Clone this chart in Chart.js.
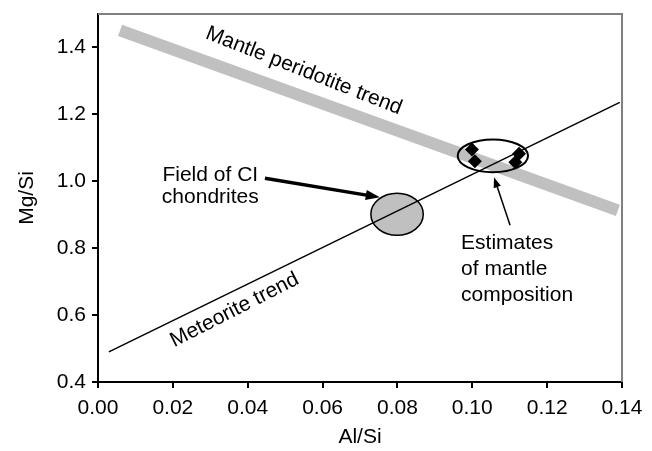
<!DOCTYPE html>
<html>
<head>
  <meta charset="UTF-8">
  <title>Mg/Si vs Al/Si</title>
  <script src="https://cdn.jsdelivr.net/npm/chart.js"></script>
  <style>
    html, body { margin: 0; padding: 0; background: #fff; }
    #wrap { width: 652px; height: 451px; }
  </style>
</head>
<body>
  <div id="wrap"><canvas id="chart" width="652" height="451"></canvas></div>
  <script>
    // axis ticks
    const xTicks = [0, 0.02, 0.04, 0.06, 0.08, 0.10, 0.12, 0.14];
    const yTicks = [0.4, 0.6, 0.8, 1.0, 1.2, 1.4];

    // trend lines (Al/Si, Mg/Si)
    const mantleTrendX = [0.0059, 0.1389];
    const mantleTrendY = [1.451, 0.913];
    const meteoriteTrendX = [0.0029, 0.1394];
    const meteoriteTrendY = [0.490, 1.236];

    // mantle composition estimates
    const estimateX = [0.0999, 0.1007, 0.1125, 0.1115];
    const estimateY = [1.095, 1.060, 1.082, 1.057];

    // fields: centre x, centre y, half width, half height
    const ciField = [0.0799, 0.9015, 0.0070, 0.063];
    const mantleField = [0.1055, 1.076, 0.0094, 0.049];

    const pts = (xs, ys) => xs.map((x, i) => ({ x, y: ys[i] }));
    const font = '"Liberation Sans", Arial, sans-serif';
    const fs = 21;

    const frame = {
      id: 'frame',
      beforeDatasetsDraw(chart) {
        const { ctx, scales: { x, y } } = chart;
        ctx.save();
        // CI chondrite field (filled)
        ctx.beginPath();
        ctx.ellipse(x.getPixelForValue(ciField[0]), y.getPixelForValue(ciField[1]),
          x.getPixelForValue(ciField[2]) - x.getPixelForValue(0),
          y.getPixelForValue(0) - y.getPixelForValue(ciField[3]), 0, 0, Math.PI * 2);
        ctx.fillStyle = '#c0c0c0';
        ctx.fill();
        ctx.strokeStyle = '#000';
        ctx.lineWidth = 1.5;
        ctx.stroke();
        ctx.restore();
      },
      afterDatasetsDraw(chart) {
        const { ctx, chartArea: a, scales: { x, y } } = chart;
        ctx.save();
        // mantle estimates ring
        ctx.beginPath();
        ctx.ellipse(x.getPixelForValue(mantleField[0]), y.getPixelForValue(mantleField[1]),
          x.getPixelForValue(mantleField[2]) - x.getPixelForValue(0),
          y.getPixelForValue(0) - y.getPixelForValue(mantleField[3]), 0, 0, Math.PI * 2);
        ctx.strokeStyle = '#000';
        ctx.lineWidth = 2;
        ctx.stroke();

        // top / right frame
        ctx.strokeStyle = '#808080';
        ctx.lineWidth = 2;
        ctx.beginPath();
        ctx.moveTo(a.left, a.top);
        ctx.lineTo(a.right, a.top);
        ctx.lineTo(a.right, a.bottom);
        ctx.stroke();

        // arrows
        const arrow = (x0, y0, x1, y1, w, head) => {
          const px0 = x.getPixelForValue(x0), py0 = y.getPixelForValue(y0);
          const px1 = x.getPixelForValue(x1), py1 = y.getPixelForValue(y1);
          const ang = Math.atan2(py1 - py0, px1 - px0);
          ctx.strokeStyle = '#000';
          ctx.fillStyle = '#000';
          ctx.lineWidth = w;
          ctx.beginPath();
          ctx.moveTo(px0, py0);
          ctx.lineTo(px1 - Math.cos(ang) * head * 0.8, py1 - Math.sin(ang) * head * 0.8);
          ctx.stroke();
          ctx.beginPath();
          ctx.moveTo(px1, py1);
          ctx.lineTo(px1 - head * Math.cos(ang - 0.35), py1 - head * Math.sin(ang - 0.35));
          ctx.lineTo(px1 - head * Math.cos(ang + 0.35), py1 - head * Math.sin(ang + 0.35));
          ctx.closePath();
          ctx.fill();
        };
        arrow(0.0446, 1.009, 0.0753, 0.952, 3.5, 15);
        arrow(0.1101, 0.8687, 0.1058, 1.012, 1.5, 11);

        // labels
        ctx.fillStyle = '#000';
        ctx.font = fs + 'px ' + font;
        ctx.textBaseline = 'middle';
        const rot = (t, vx, vy, deg) => {
          ctx.save();
          ctx.translate(x.getPixelForValue(vx), y.getPixelForValue(vy));
          ctx.rotate(deg * Math.PI / 180);
          ctx.textAlign = 'center';
          ctx.fillText(t, 0, 0);
          ctx.restore();
        };
        rot('Mantle peridotite trend', 0.0550, 1.330, 21.5);
        rot('Meteorite trend', 0.0365, 0.615, -27);
        ctx.textAlign = 'center';
        ctx.fillText('Field of CI', x.getPixelForValue(0.030), y.getPixelForValue(1.018));
        ctx.fillText('chondrites', x.getPixelForValue(0.030), y.getPixelForValue(0.952));
        ctx.textAlign = 'left';
        ['Estimates', 'of mantle', 'composition'].forEach((t, i) => {
          ctx.fillText(t, x.getPixelForValue(0.097), y.getPixelForValue([0.815, 0.737, 0.660][i]));
        });
        ctx.restore();
      }
    };

    new Chart(document.getElementById('chart'), {
      type: 'scatter',
      data: {
        datasets: [
          {
            type: 'line', data: pts(mantleTrendX, mantleTrendY), order: 3,
            borderColor: '#c0c0c0', borderWidth: 12, borderCapStyle: 'butt',
            pointRadius: 0, fill: false
          },
          {
            type: 'line', data: pts(meteoriteTrendX, meteoriteTrendY), order: 2,
            borderColor: '#000', borderWidth: 1.5, pointRadius: 0, fill: false
          },
          {
            data: pts(estimateX, estimateY), order: 1,
            pointStyle: 'rectRot', pointRadius: 7,
            backgroundColor: '#000', borderColor: '#000', borderWidth: 0
          }
        ]
      },
      options: {
        responsive: false,
        animation: false,
        events: [],
        layout: { padding: { top: 14, right: 30, left: 0, bottom: 0 } },
        plugins: { legend: { display: false }, tooltip: { enabled: false } },
        scales: {
          x: {
            type: 'linear', min: 0, max: 0.14,
            afterBuildTicks: s => { s.ticks = xTicks.map(v => ({ value: v })); },
            afterFit: s => { s.height = 69; s.paddingLeft = 0; s.paddingRight = 0; },
            ticks: { color: '#000', font: { size: fs, family: font }, padding: 8,
              callback: v => v.toFixed(2), maxRotation: 0, autoSkip: false },
            grid: { drawOnChartArea: false, drawTicks: true, tickLength: 6, color: '#000', lineWidth: 2 },
            border: { display: true, color: '#000', width: 2 },
            title: { display: true, text: 'Al/Si', color: '#000',
              font: { size: fs, family: font }, padding: { top: 0, bottom: 1 } }
          },
          y: {
            type: 'linear', min: 0.4, max: 1.5,
            afterBuildTicks: s => { s.ticks = yTicks.map(v => ({ value: v })); },
            afterFit: s => { s.width = 98; s.paddingTop = 0; s.paddingBottom = 0; },
            ticks: { color: '#000', font: { size: fs, family: font }, padding: 6,
              callback: v => v.toFixed(1) },
            grid: { drawOnChartArea: false, drawTicks: true, tickLength: 6, color: '#000', lineWidth: 2 },
            border: { display: true, color: '#000', width: 2 },
            title: { display: true, text: 'Mg/Si', color: '#000',
              font: { size: fs, family: font }, padding: { top: 15, bottom: 0 } }
          }
        }
      },
      plugins: [frame]
    });
  </script>
</body>
</html>
